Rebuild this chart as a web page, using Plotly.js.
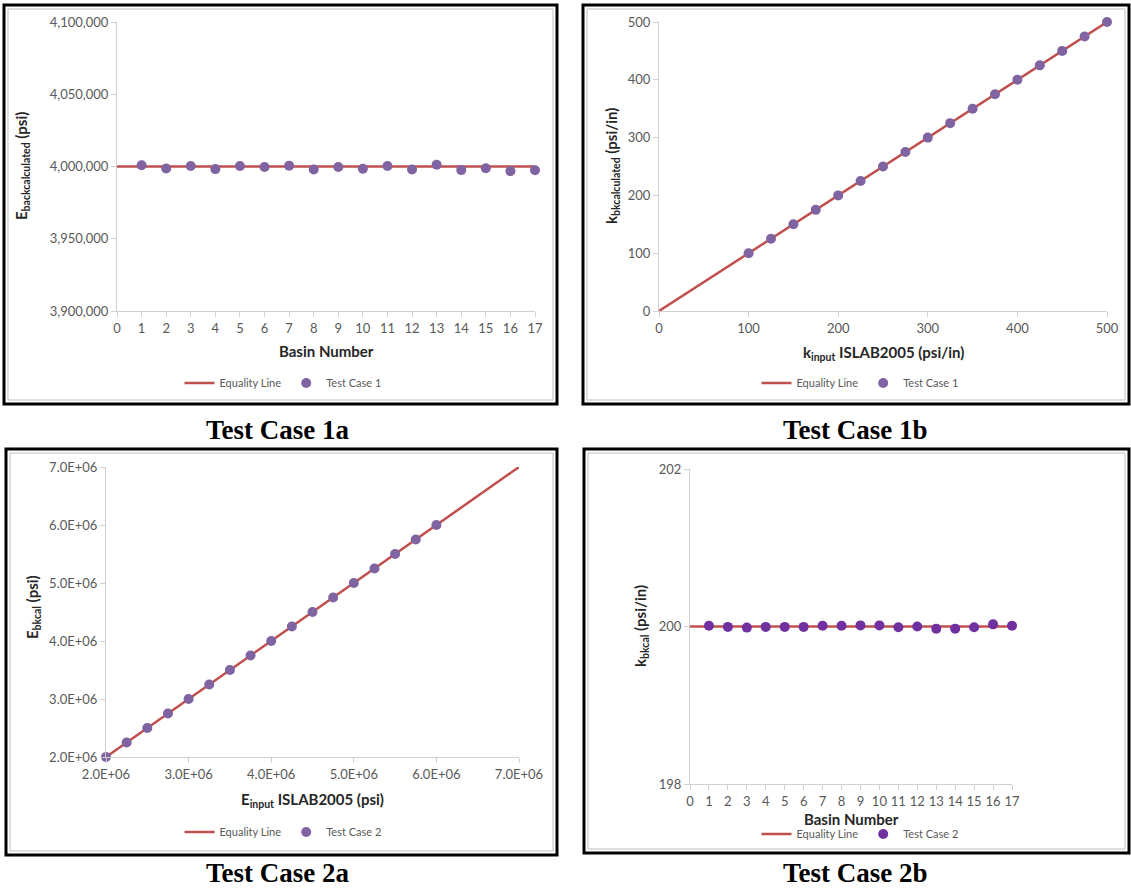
<!DOCTYPE html>
<html>
<head>
<meta charset="utf-8">
<script src="https://cdn.plot.ly/plotly-3.0.1.min.js"></script>
<style>
  html, body { margin: 0; padding: 0; background: #ffffff; }
  #chart { width: 1131px; height: 890px; }
</style>
</head>
<body>
<div id="chart"></div>
<script>
// ---- Data ----
// Test Case 1a: backcalculated E per basin (input E = 4,000,000 psi)
const basins = [1, 2, 3, 4, 5, 6, 7, 8, 9, 10, 11, 12, 13, 14, 15, 16, 17];
const eBackcalc1a = [4000900, 3998600, 4000400, 3998200, 4000300, 3999600, 4000600, 3997900,
                     3999700, 3998400, 4000300, 3997900, 4001200, 3997500, 3998800, 3996800, 3997400];
const eqLine1aX = [0, 17];
const eqLine1aY = [4000000, 4000000];

// Test Case 1b: k input vs k backcalculated
const kInput1b = [100, 125, 150, 175, 200, 225, 250, 275, 300, 325, 350, 375, 400, 425, 450, 475, 500];
const kBackcalc1b = [100, 125, 150, 175, 200, 225, 250, 275, 300, 325, 350, 375, 400, 425, 450, 475, 500];
const eqLine1bX = [0, 500];
const eqLine1bY = [0, 500];

// Test Case 2a: E input vs E backcalculated
const eInput2a = [2.0e6, 2.25e6, 2.5e6, 2.75e6, 3.0e6, 3.25e6, 3.5e6, 3.75e6, 4.0e6,
                  4.25e6, 4.5e6, 4.75e6, 5.0e6, 5.25e6, 5.5e6, 5.75e6, 6.0e6];
const eBackcalc2a = [2.0e6, 2.25e6, 2.5e6, 2.75e6, 3.0e6, 3.25e6, 3.5e6, 3.75e6, 4.0e6,
                     4.25e6, 4.5e6, 4.75e6, 5.0e6, 5.25e6, 5.5e6, 5.75e6, 6.0e6];
const eqLine2aX = [2.0e6, 7.0e6];
const eqLine2aY = [2.0e6, 7.0e6];

// Test Case 2b: backcalculated k per basin (input k = 200 psi/in)
const kBackcalc2b = [200.009, 199.995, 199.986, 199.995, 199.995, 199.995, 200.009, 200.009, 200.014,
                     200.014, 199.991, 200.000, 199.973, 199.973, 199.991, 200.027, 200.009];
const eqLine2bX = [0, 17];
const eqLine2bY = [200, 200];

// Tick values
const basinTicks = [0, 1, 2, 3, 4, 5, 6, 7, 8, 9, 10, 11, 12, 13, 14, 15, 16, 17];
const eTicks1a = [3900000, 3950000, 4000000, 4050000, 4100000];
const kTicks1b = [0, 100, 200, 300, 400, 500];
const eTicks2a = [2.0e6, 3.0e6, 4.0e6, 5.0e6, 6.0e6, 7.0e6];
const kTicks2b = [198, 200, 202];

// ---- Styling ----
const W = 1131, H = 890;
const px = v => v / W;
const py = v => 1 - v / H;
const RED = '#C0504D';
const PURPLE = '#8064A2';
const PURPLE2 = '#7030A0';
const AXIS_GRAY = '#D0D0D0';
const TICK_FONT = { family: 'Lato, "Open Sans", sans-serif', size: 13, color: '#595959' };
const TITLE_FONT = { family: 'Lato, "Open Sans", sans-serif', size: 15, color: '#262626', weight: 'bold' };
const LEGEND_FONT = { family: 'Lato, "Open Sans", sans-serif', size: 11, color: '#595959' };
const CAPTION_FONT = { family: '"Liberation Serif", "Times New Roman", serif', size: 27, color: '#000000', weight: 'bold' };

const sci = v => (v / 1e6).toFixed(1) + 'E+06';
const comma = v => v.toLocaleString('en-US');

function axisBase(domain, range, tickvals, ticktext) {
  return {
    domain: domain,
    range: range,
    tickmode: 'array',
    tickvals: tickvals,
    ticktext: ticktext,
    showgrid: false,
    zeroline: false,
    showline: true,
    linecolor: AXIS_GRAY,
    linewidth: 1,
    ticks: 'outside',
    ticklen: 5,
    tickcolor: AXIS_GRAY,
    tickfont: TICK_FONT,
    fixedrange: true
  };
}

function lineTrace(x, y, xa, ya, leg) {
  return {
    x: x, y: y, xaxis: xa, yaxis: ya, legend: leg,
    type: 'scatter', mode: 'lines', name: 'Equality Line',
    line: { color: RED, width: 2.5 }, cliponaxis: false, hoverinfo: 'skip'
  };
}
function pointTrace(x, y, xa, ya, leg, name, color) {
  return {
    x: x, y: y, xaxis: xa, yaxis: ya, legend: leg,
    type: 'scatter', mode: 'markers', name: name,
    marker: { color: color, size: 10 }, cliponaxis: false
  };
}

const traces = [
  lineTrace(eqLine1aX, eqLine1aY, 'x', 'y', 'legend'),
  pointTrace(basins, eBackcalc1a, 'x', 'y', 'legend', 'Test Case 1', PURPLE),
  lineTrace(eqLine1bX, eqLine1bY, 'x2', 'y2', 'legend2'),
  pointTrace(kInput1b, kBackcalc1b, 'x2', 'y2', 'legend2', 'Test Case 1', PURPLE),
  lineTrace(eqLine2aX, eqLine2aY, 'x3', 'y3', 'legend3'),
  pointTrace(eInput2a, eBackcalc2a, 'x3', 'y3', 'legend3', 'Test Case 2', PURPLE),
  lineTrace(eqLine2bX, eqLine2bY, 'x4', 'y4', 'legend4'),
  pointTrace(basins, kBackcalc2b, 'x4', 'y4', 'legend4', 'Test Case 2', PURPLE2)
];

function legendAt(cx, cy) {
  return {
    orientation: 'h', x: px(cx), y: py(cy), xanchor: 'center', yanchor: 'middle',
    xref: 'paper', yref: 'paper', font: LEGEND_FONT, bgcolor: 'rgba(0,0,0,0)',
    itemwidth: 30, tracegroupgap: 0
  };
}

function frame(x0, y0, x1, y1) {
  return [
    { type: 'rect', xref: 'paper', yref: 'paper', x0: px(x0), x1: px(x1), y0: py(y0), y1: py(y1),
      line: { color: '#000000', width: 3 }, fillcolor: 'rgba(0,0,0,0)', layer: 'below' },
    { type: 'rect', xref: 'paper', yref: 'paper', x0: px(x0 + 4), x1: px(x1 - 4), y0: py(y0 + 4), y1: py(y1 - 4),
      line: { color: '#BFBFBF', width: 1 }, fillcolor: 'rgba(0,0,0,0)', layer: 'below' }
  ];
}

function label(text, x, y, font, angle) {
  return {
    text: text, xref: 'paper', yref: 'paper', x: px(x), y: py(y),
    xanchor: 'center', yanchor: 'middle', showarrow: false, font: font, textangle: angle || 0
  };
}

const layout = {
  width: W, height: H,
  margin: { l: 0, r: 0, t: 0, b: 0 },
  paper_bgcolor: '#ffffff', plot_bgcolor: 'rgba(0,0,0,0)',
  showlegend: true,
  xaxis: axisBase([px(117), px(535)], [0, 17], basinTicks, basinTicks.map(String)),
  yaxis: Object.assign(axisBase([py(311), py(22)], [3900000, 4100000], eTicks1a, eTicks1a.map(comma)), { anchor: 'x' }),
  xaxis2: Object.assign(axisBase([px(659), px(1107)], [0, 500], kTicks1b, kTicks1b.map(String)), { anchor: 'y2' }),
  yaxis2: Object.assign(axisBase([py(311), py(22)], [0, 500], kTicks1b, kTicks1b.map(String)), { anchor: 'x2' }),
  xaxis3: Object.assign(axisBase([px(106), px(519)], [2.0e6, 7.0e6], eTicks2a, eTicks2a.map(sci)), { anchor: 'y3' }),
  yaxis3: Object.assign(axisBase([py(757), py(467)], [2.0e6, 7.0e6], eTicks2a, eTicks2a.map(sci)), { anchor: 'x3' }),
  xaxis4: Object.assign(axisBase([px(690), px(1012)], [0, 17], basinTicks, basinTicks.map(String)), { anchor: 'y4' }),
  yaxis4: Object.assign(axisBase([py(784), py(469)], [198, 202], kTicks2b, kTicks2b.map(String)), { anchor: 'x4' }),
  legend: legendAt(283, 383),
  legend2: legendAt(860, 383),
  legend3: legendAt(283, 832),
  legend4: legendAt(860, 834),
  shapes: [].concat(
    frame(4, 5, 557, 404),
    frame(583, 5, 1129, 404),
    frame(6, 449, 557, 855),
    frame(584, 449, 1129, 853)
  ),
  annotations: [
    label('Basin Number', 326, 351, TITLE_FONT),
    label('E<sub>backcalculated</sub> (psi)', 22, 166, TITLE_FONT, -90),
    label('k<sub>input</sub> ISLAB2005 (psi/in)', 883, 353, TITLE_FONT),
    label('k<sub>bkcalculated</sub> (psi/in)', 612, 166, TITLE_FONT, -90),
    label('E<sub>input</sub> ISLAB2005 (psi)', 312, 800, TITLE_FONT),
    label('E<sub>bkcal</sub> (psi)', 33, 607, TITLE_FONT, -90),
    label('Basin Number', 851, 819, TITLE_FONT),
    label('k<sub>bkcal</sub> (psi/in)', 641, 626, TITLE_FONT, -90),
    label('Test Case 1a', 278, 430, CAPTION_FONT),
    label('Test Case 1b', 855, 430, CAPTION_FONT),
    label('Test Case 2a', 278, 873, CAPTION_FONT),
    label('Test Case 2b', 855, 873, CAPTION_FONT)
  ]
};

Plotly.newPlot('chart', traces, layout, { displayModeBar: false, staticPlot: true });
</script>
</body>
</html>
